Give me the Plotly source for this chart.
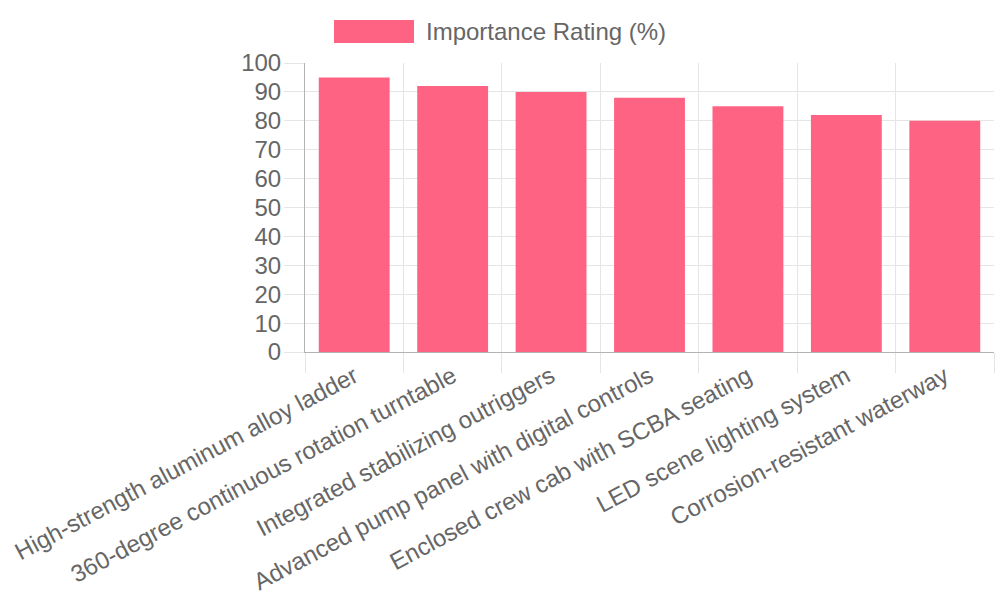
import plotly.graph_objects as go

categories = [
    "High-strength aluminum alloy ladder",
    "360-degree continuous rotation turntable",
    "Integrated stabilizing outriggers",
    "Advanced pump panel with digital controls",
    "Enclosed crew cab with SCBA seating",
    "LED scene lighting system",
    "Corrosion-resistant waterway",
]
values = [95, 92, 90, 88, 85, 82, 80]
series_name = "Importance Rating (%)"
y_ticks = list(range(0, 101, 10))

BAR = "rgb(255,99,132)"
GRID = "#e5e5e5"
AXIS = "#b3b3b3"
TXT = "#666666"
FONT = "Liberation Sans, Arial, sans-serif"
FS = 24

fig = go.Figure()
fig.add_trace(go.Bar(
    x=categories, y=values, name=series_name,
    marker=dict(color=BAR, line=dict(width=0)),
    width=0.72, showlegend=False,
))

fig.update_layout(
    width=1000, height=600,
    margin=dict(l=305, r=6, t=63, b=248, autoexpand=False),
    paper_bgcolor="white", plot_bgcolor="white",
    font=dict(family=FONT, size=FS, color=TXT),
)
fig.update_xaxes(
    type="category", tickson="boundaries", automargin=False,
    showgrid=True, gridcolor=GRID, gridwidth=1,
    ticks="outside", ticklen=20, tickcolor=GRID,
    tickangle=-28, tickfont=dict(size=FS, color=TXT),
    showline=True, linecolor=AXIS, linewidth=1,
    range=[-0.5, 6.5],
)
fig.update_yaxes(
    range=[0, 100], tickvals=y_ticks, automargin=False,
    showgrid=True, gridcolor=GRID, gridwidth=1,
    ticks="outside", ticklen=20, tickcolor=GRID,
    tickfont=dict(size=FS, color=TXT),
    showline=True, linecolor=AXIS, linewidth=1,
    zeroline=False, ticklabelstandoff=-2,
)

# legend drawn as swatch + text
fig.add_shape(type="rect", xref="paper", yref="paper",
              x0=(334 - 305) / 689, x1=(414 - 305) / 689,
              y0=1 + (63 - 43) / 289, y1=1 + (63 - 20) / 289,
              fillcolor=BAR, line=dict(width=0))
fig.add_annotation(text=series_name, xref="paper", yref="paper",
                   x=(424 - 305) / 689, y=1 + (63 - 31.5) / 289,
                   xanchor="left", yanchor="middle", showarrow=False,
                   font=dict(size=FS, color=TXT, family=FONT))

fig.write_html("out.html")
